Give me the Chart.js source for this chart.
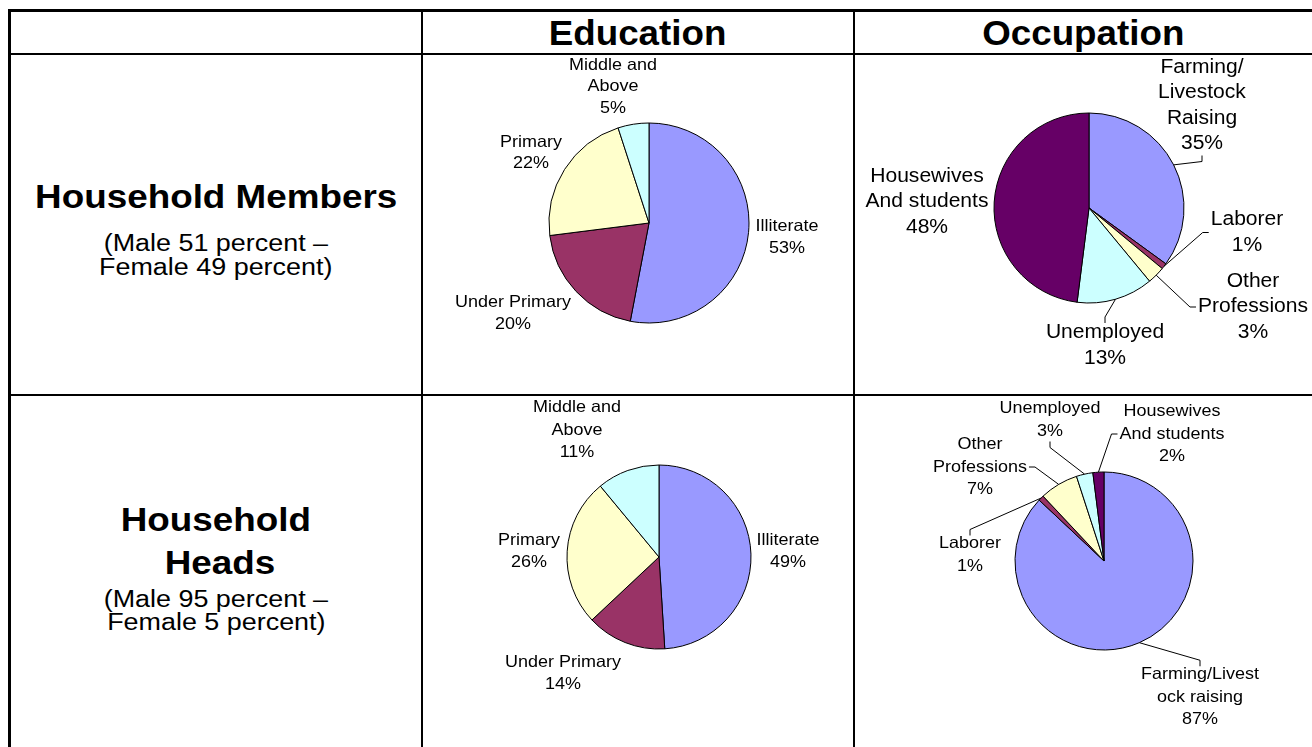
<!DOCTYPE html>
<html>
<head>
<meta charset="utf-8">
<script src="https://cdn.jsdelivr.net/npm/chart.js@4.4.1/dist/chart.umd.min.js"></script>
<style>
  html, body { margin: 0; padding: 0; background: #fff; }
  body { width: 1312px; height: 747px; position: relative; overflow: hidden;
         font-family: "Liberation Sans", Arial, sans-serif; color: #000; }
  .rule { position: absolute; background: #000; }
  .txt { position: absolute; text-align: center; white-space: nowrap; }
  .txt span { display: inline-block; }
  canvas { position: absolute; }
</style>
</head>
<body>
<script>
// --- data ---
const eduCategories = ['Illiterate', 'Under Primary', 'Primary', ['Middle and', 'Above']];
const eduMembers = [53, 20, 22, 5];
const eduHeads = [49, 14, 26, 11];

const occMembersCategories = [['Farming/', 'Livestock', 'Raising'], 'Laborer', ['Other', 'Professions'], 'Unemployed', ['Housewives', 'And students']];
const occMembers = [35, 1, 3, 13, 48];

const occHeadsCategories = [['Farming/Livest', 'ock raising'], 'Laborer', ['Other', 'Professions'], 'Unemployed', ['Housewives', 'And students']];
const occHeads = [87, 1, 7, 3, 2];

const sliceColors = ['#9999FF', '#993366', '#FFFFCC', '#CCFFFF', '#660066'];

// --- table grid ---
function rule(x, y, w, h) {
    const d = document.createElement('div');
    d.className = 'rule';
    d.style.left = x + 'px'; d.style.top = y + 'px';
    d.style.width = w + 'px'; d.style.height = h + 'px';
    document.body.appendChild(d);
}
rule(8, 9, 1304, 3);     // top
rule(8, 9, 3, 738);      // left
rule(8, 53, 1304, 2);    // under header
rule(8, 394, 1304, 2);   // between rows
rule(421, 9, 2, 738);    // column 1
rule(853, 9, 2, 738);    // column 2

// text line centred in a column, cy = middle of the line
function addText(str, x0, x1, cy, size, lineH, weight, sx) {
    const d = document.createElement('div');
    d.className = 'txt';
    d.style.left = x0 + 'px';
    d.style.width = (x1 - x0) + 'px';
    d.style.top = (cy - lineH / 2) + 'px';
    d.style.lineHeight = lineH + 'px';
    d.style.fontSize = size + 'px';
    d.style.fontWeight = weight;
    const s = document.createElement('span');
    s.textContent = str;
    s.style.transform = 'scaleX(' + sx + ')';
    d.appendChild(s);
    document.body.appendChild(d);
}
addText('Education', 423, 853, 33, 35, 40, 'bold', 1.05);
addText('Occupation', 855, 1312, 33, 35, 40, 'bold', 1.05);

addText('Household Members', 11, 421, 196, 34, 40, 'bold', 1.083);
addText('(Male 51 percent \u2013', 11, 421, 243, 23, 24, 'normal', 1.17);
addText('Female 49 percent)', 11, 421, 267, 23, 24, 'normal', 1.17);

addText('Household', 11, 421, 519, 34, 40, 'bold', 1.083);
addText('Heads', 15, 425, 562, 34, 40, 'bold', 1.083);
addText('(Male 95 percent \u2013', 11, 421, 599, 23, 24, 'normal', 1.17);
addText('Female 5 percent)', 11, 421, 622, 23, 24, 'normal', 1.17);

// --- data labels with Excel-like leader lines ---
const pieLabels = {
    id: 'pieLabels',
    afterDatasetsDraw(chart, args, opts) {
        const ctx = chart.ctx;
        const meta = chart.getDatasetMeta(0);
        const values = chart.data.datasets[0].data;
        const total = values.reduce((a, b) => a + b, 0);
        ctx.save();
        ctx.font = opts.size + 'px "Liberation Sans", Arial, sans-serif';
        ctx.fillStyle = '#000';
        ctx.strokeStyle = '#000';
        ctx.lineWidth = 1;
        ctx.textAlign = 'center';
        ctx.textBaseline = 'middle';
        meta.data.forEach((arc, i) => {
            const p = arc.getProps(['x', 'y', 'startAngle', 'endAngle', 'outerRadius'], true);
            const lines = [].concat(chart.data.labels[i], Math.round(values[i] / total * 100) + '%');
            const [dx, dy, side] = opts.place[i];
            const lx = p.x + dx, ly = p.y + dy;
            const h = lines.length * opts.lineHeight;
            const w = Math.max(...lines.map(t => ctx.measureText(t).width)) * opts.sx;
            lines.forEach((t, k) => {
                ctx.save();
                ctx.translate(lx, ly - h / 2 + opts.lineHeight * (k + 0.5));
                ctx.scale(opts.sx, 1);
                ctx.fillText(t, 0, 0);
                ctx.restore();
            });
            if (side) {
                const mid = (p.startAngle + p.endAngle) / 2;
                const x0 = p.x + Math.cos(mid) * p.outerRadius;
                const y0 = p.y + Math.sin(mid) * p.outerRadius;
                let ax = lx, ay = ly, ex = lx, ey = ly;
                if (side === 'left') { ax = lx - w / 2 - 2; ex = ax - 6; }
                if (side === 'right') { ax = lx + w / 2 + 2; ex = ax + 6; }
                if (side === 'top') { ay = ly - h / 2 + 3; ey = ay - 6; }
                if (side === 'bottom') { ay = ly + h / 2 - 1; ey = ay + 6; }
                ctx.beginPath();
                ctx.moveTo(x0, y0);
                ctx.lineTo(ex, ey);
                ctx.lineTo(ax, ay);
                ctx.stroke();
            }
        });
        ctx.restore();
    }
};

function makePie(cell, center, radius, labels, values, labelOpts) {
    const [x0, y0, x1, y1] = cell;
    const canvas = document.createElement('canvas');
    canvas.width = x1 - x0;
    canvas.height = y1 - y0;
    canvas.style.left = x0 + 'px';
    canvas.style.top = y0 + 'px';
    document.body.appendChild(canvas);
    return new Chart(canvas.getContext('2d'), {
        type: 'pie',
        data: {
            labels: labels,
            datasets: [{
                data: values,
                backgroundColor: sliceColors.slice(0, values.length),
                borderColor: '#000',
                borderWidth: 1
            }]
        },
        options: {
            responsive: false,
            devicePixelRatio: 1,
            animation: false,
            radius: radius,
            layout: {
                padding: {
                    left: center[0] - radius - x0,
                    right: x1 - center[0] - radius,
                    top: center[1] - radius - y0,
                    bottom: y1 - center[1] - radius
                }
            },
            plugins: {
                legend: { display: false },
                tooltip: { enabled: false },
                pieLabels: labelOpts
            }
        },
        plugins: [pieLabels]
    });
}

makePie([423, 55, 853, 394], [649, 223], 100, eduCategories, eduMembers, {
    size: 16.5, sx: 1.09, lineHeight: 21.5,
    place: [[138, 14.5], [-136, 90.5], [-118, -70], [-36, -136.5]]
});

makePie([855, 55, 1312, 394], [1089, 208], 95, occMembersCategories, occMembers, {
    size: 19.5, sx: 1.08, lineHeight: 25.5,
    place: [[113, -102.5, 'bottom'], [158, 24.5, 'left'], [164, 99, 'left'], [16, 137.5, 'top'], [-162, -6]]
});

makePie([423, 396, 853, 747], [659, 557], 92, eduCategories, eduHeads, {
    size: 16.5, sx: 1.09, lineHeight: 22.5,
    place: [[129, -5.5], [-96, 116.5], [-130, -5.5], [-82, -127]]
});

makePie([855, 396, 1312, 747], [1104, 561], 89, occHeadsCategories, occHeads, {
    size: 16.5, sx: 1.09, lineHeight: 22.5,
    place: [[96, 136, 'top'], [-134, -6, 'top'], [-124, -94, 'right'], [-54, -141, 'bottom'], [68, -127, 'left']]
});
</script>
</body>
</html>
